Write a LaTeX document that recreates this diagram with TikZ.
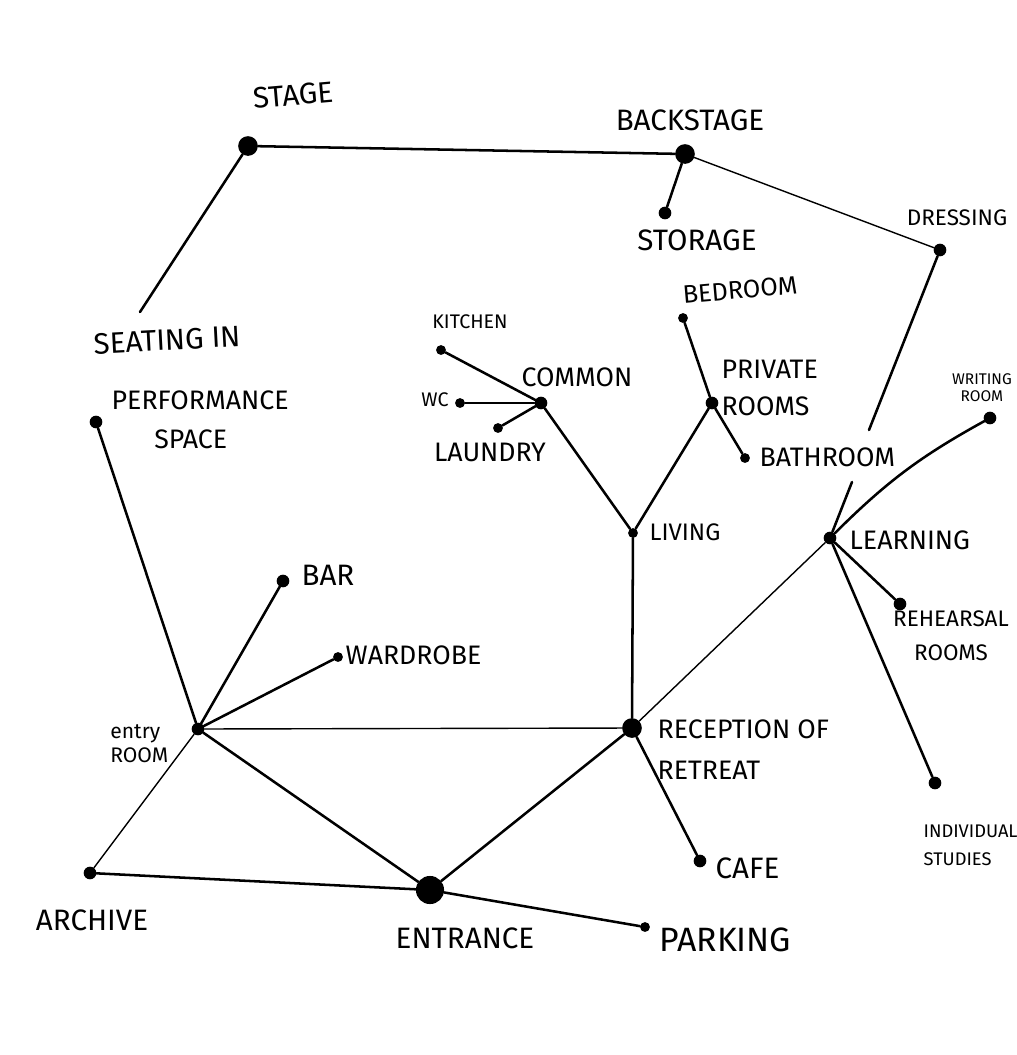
\documentclass[tikz,border=0pt]{standalone}
\usepackage{fontspec}
\setmainfont{Fira Sans}
\tikzset{
  dot/.style={circle,fill=black,inner sep=0pt,minimum size=9pt},
  bigdot/.style={circle,fill=black,inner sep=0pt,minimum size=14pt},
  hugedot/.style={circle,fill=black,inner sep=0pt,minimum size=20pt},
  link/.style={line width=1.8pt,line cap=round},
  thinlink/.style={line width=1pt,line cap=round},
  lbl/.style={font=\fontsize{21}{25}\selectfont,inner sep=1pt},
  smalllbl/.style={font=\fontsize{14}{16}\selectfont,inner sep=1pt,align=center},
}
\begin{document}
\begin{tikzpicture}[x=0.025cm,y=-0.025cm]
			
			% frame of the sheet
			\useasboundingbox (0,0) rectangle (1017,1055);
			
			% theatre part
			\node[bigdot] (stage) at (248,146) {};
			\node[bigdot] (backstage) at (685,154) {};
			\node[dot] (storage) at (665,213) {};
			\node[dot] (dressing) at (940,250) {};
			\coordinate (seatend) at (140,312);
			\node[dot] (perf) at (96,422) {};
			
			\node[lbl,rotate=5] (stagelbl) at (293,95) {STAGE};
			\node[lbl] (backstagelbl) at (690,120) {BACKSTAGE};
			\node[lbl] (storagelbl) at (697,240) {STORAGE};
			\node[smalllbl,font=\fontsize{16}{20}\selectfont] (dressinglbl) at (957,218) {DRESSING};
			\node[lbl,rotate=3] (seatlbl) at (167,340) {SEATING IN};
			\node[lbl,anchor=west,align=left,font=\fontsize{19}{30}\selectfont] (perflbl) at (110,420) {PERFORMANCE\\[-2pt]\hspace{1.6em}SPACE};
			
			% living part
			\node[dot,minimum size=7pt] (kitchen) at (441,350) {};
			\node[dot,minimum size=7pt] (wc) at (460,403) {};
			\node[dot,minimum size=7pt] (laundry) at (498,428) {};
			\node[dot] (common) at (541,403) {};
			\node[dot,minimum size=7pt] (bedroom) at (683,318) {};
			\node[dot] (private) at (712,403) {};
			\node[dot,minimum size=7pt] (bathroom) at (745,458) {};
			\node[dot,minimum size=7pt] (living) at (633,533) {};
			
			\node[smalllbl] (kitchenlbl) at (470,322) {KITCHEN};
			\node[smalllbl] (wclbl) at (435,400) {WC};
			\node[lbl,font=\fontsize{19}{22}\selectfont] (commonlbl) at (577,377) {COMMON};
			\node[lbl,font=\fontsize{19}{22}\selectfont] (laundrylbl) at (490,452) {LAUNDRY};
			\node[lbl,font=\fontsize{18}{22}\selectfont,rotate=5] (bedroomlbl) at (740,290) {BEDROOM};
			\node[lbl,anchor=west,align=left,font=\fontsize{19}{26}\selectfont] (privatelbl) at (720,388) {PRIVATE\\ROOMS};
			\node[lbl,anchor=west,font=\fontsize{19}{22}\selectfont] (bathroomlbl) at (758,457) {BATHROOM};
			\node[lbl,anchor=west,font=\fontsize{17}{20}\selectfont] (livinglbl) at (648,532) {LIVING};
			
			% learning part
			\node[dot] (writing) at (990,418) {};
			\node[dot] (learning) at (830,538) {};
			\node[dot] (rehearsal) at (900,604) {};
			\node[dot] (individual) at (935,783) {};
			\coordinate (dressgap) at (869,430);
			\coordinate (learngap) at (852,482);
			
			\node[smalllbl,font=\fontsize{11}{12}\selectfont] (writinglbl) at (982,388) {WRITING\\ROOM};
			\node[lbl,anchor=west,font=\fontsize{19}{22}\selectfont] (learninglbl) at (848,540) {LEARNING};
			\node[lbl,align=center,font=\fontsize{16}{24}\selectfont] (rehearsallbl) at (951,636) {REHEARSAL\\ROOMS};
			\node[lbl,anchor=west,align=left,font=\fontsize{13}{20}\selectfont] (individuallbl) at (922,845) {INDIVIDUAL\\STUDIES};
			
			% entry part
			\node[dot] (bar) at (283,581) {};
			\node[dot,minimum size=7pt] (wardrobe) at (338,657) {};
			\node[dot] (entry) at (198,729) {};
			\node[bigdot] (reception) at (632,728) {};
			\node[dot] (cafe) at (700,861) {};
			\node[dot] (archive) at (90,873) {};
			\node[hugedot] (entrance) at (430,890) {};
			\node[dot,minimum size=7pt] (parking) at (645,927) {};
			
			\node[lbl,anchor=west] (barlbl) at (300,575) {BAR};
			\node[lbl,anchor=west,font=\fontsize{19}{22}\selectfont] (wardrobelbl) at (344,655) {WARDROBE};
			\node[smalllbl,anchor=east,align=left,font=\fontsize{15}{17}\selectfont] (entrylbl) at (170,744) {entry\\ROOM};
			\node[lbl,anchor=west,align=left,font=\fontsize{19}{29}\selectfont] (receptionlbl) at (656,750) {RECEPTION OF\\RETREAT};
			\node[lbl,anchor=west] (cafelbl) at (714,868) {CAFE};
			\node[lbl] (archivelbl) at (92,920) {ARCHIVE};
			\node[lbl] (entrancelbl) at (465,938) {ENTRANCE};
			\node[lbl,anchor=west,font=\fontsize{24}{28}\selectfont] (parkinglbl) at (658,940) {PARKING};
			
			% connections
			\draw[link] (stage) -- (backstage);
			\draw[link] (stage) -- (seatend);
			\draw[link] (backstage) -- (storage);
			\draw[thinlink] (backstage) -- (dressing);
			\draw[link] (dressing) -- (dressgap);
			\draw[link] (learngap) -- (learning);
			\draw[link] (perf) -- (entry);
			
			\draw[link] (kitchen) -- (common);
			\draw[link] (wc) -- (common);
			\draw[link] (laundry) -- (common);
			\draw[link] (common) -- (living);
			\draw[link] (bedroom) -- (private);
			\draw[link] (private) -- (bathroom);
			\draw[link] (private) -- (living);
			\draw[link] (living) -- (reception);
			
			\draw[link] (learning) to[bend left=8] (writing);
			\draw[link] (learning) -- (rehearsal);
			\draw[link] (learning) -- (individual);
			\draw[thinlink] (learning) -- (reception);
			
			\draw[link] (entry) -- (bar);
			\draw[link] (entry) -- (wardrobe);
			\draw[thinlink] (entry) -- (reception);
			\draw[link] (entry) -- (entrance);
			\draw[thinlink] (entry) -- (archive);
			\draw[link] (archive) -- (entrance);
			\draw[link] (entrance) -- (reception);
			\draw[link] (entrance) -- (parking);
			\draw[link] (reception) -- (cafe);
			
		\end{tikzpicture}
\end{document}
